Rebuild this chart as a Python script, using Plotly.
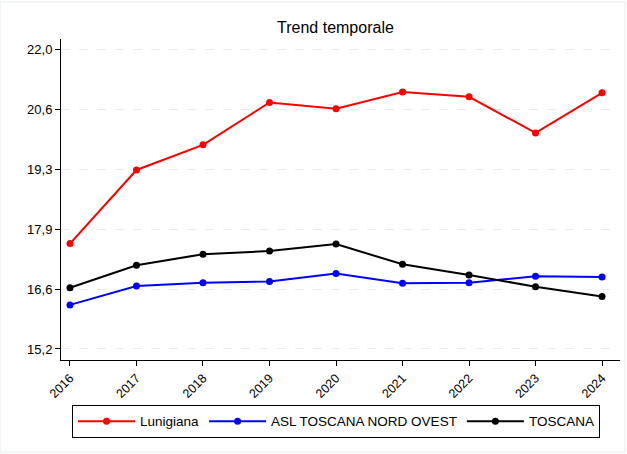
import plotly.graph_objects as go

# Years and series values
years = [2016, 2017, 2018, 2019, 2020, 2021, 2022, 2023, 2024]
lunigiana = [17.59, 19.26, 19.83, 20.79, 20.65, 21.03, 20.92, 20.10, 21.01]
asl_nord_ovest = [16.20, 16.63, 16.70, 16.73, 16.91, 16.69, 16.70, 16.85, 16.83]
toscana = [16.59, 17.10, 17.35, 17.42, 17.58, 17.12, 16.88, 16.61, 16.39]

# Y ticks: equally spaced, shown with comma as decimal separator
y_tickvals = [15.2, 16.56, 17.92, 19.28, 20.64, 22.0]
y_ticktext = ["15,2", "16,6", "17,9", "19,3", "20,6", "22,0"]

series = [
    ("Lunigiana", lunigiana, "#ff0000"),
    ("ASL TOSCANA NORD OVEST", asl_nord_ovest, "#0000ff"),
    ("TOSCANA", toscana, "#000000"),
]

fig = go.Figure()
for name, vals, color in series:
    fig.add_trace(go.Scatter(
        x=years, y=vals, name=name, mode="lines+markers",
        line=dict(color=color, width=2),
        marker=dict(color=color, size=7),
    ))

font_family = "Arial, Liberation Sans, sans-serif"

fig.update_layout(
    width=627, height=454,
    margin=dict(l=61, r=7, t=39, b=94),
    paper_bgcolor="white", plot_bgcolor="white",
    font=dict(family=font_family, color="black", size=12),
    title=dict(text="Trend temporale", x=0.535, xanchor="center",
               y=1 - 27 / 454, yanchor="middle",
               font=dict(size=16, family=font_family, color="black")),
    showlegend=True,
    legend=dict(orientation="h", x=0.492, xanchor="center", y=-0.140, yanchor="top",
                bordercolor="black", borderwidth=1, bgcolor="white",
                font=dict(size=13.5, family=font_family), itemwidth=57,
                traceorder="normal"),
)

fig.update_xaxes(
    range=[2015.865, 2024.27], tickvals=years, ticktext=[str(y) for y in years],
    tickangle=-45, ticks="outside", ticklen=5, tickcolor="black",
    showline=True, linecolor="black", linewidth=1, showgrid=False, zeroline=False,
    tickfont=dict(size=12.5),
)
fig.update_yaxes(
    range=[14.95, 22.23], tickvals=y_tickvals, ticktext=y_ticktext,
    ticks="outside", ticklen=5, tickcolor="black",
    showline=True, linecolor="black", linewidth=1,
    showgrid=True, gridcolor="#ececec", griddash="dash", gridwidth=1, zeroline=False,
    tickfont=dict(size=13),
)

# Faint frame around the graph region
fig.add_shape(type="rect", xref="paper", yref="paper",
              x0=-61 / 559, x1=1 + 5 / 559, y0=-92 / 321, y1=1 + 37 / 321,
              line=dict(color="#e4ecee", width=1), layer="below")

fig.write_html("out.html")
